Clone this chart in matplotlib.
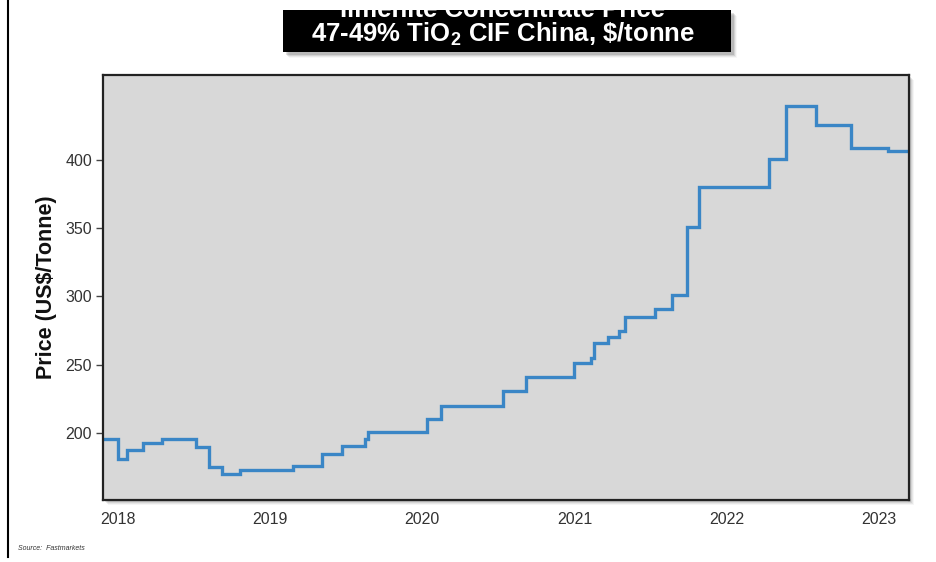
import numpy as np
import matplotlib
matplotlib.use("Agg")
import matplotlib.pyplot as plt
from matplotlib.patches import Rectangle
from matplotlib.lines import Line2D
from matplotlib.transforms import Bbox, TransformedBbox

plt.rcParams['font.family'] = ['Liberation Sans', 'DejaVu Sans']
plt.rcParams['mathtext.fontset'] = 'custom'
plt.rcParams['mathtext.rm'] = 'Liberation Sans:bold'

# step points: decimal year where each price level starts
dates = [2017.90, 2018.00, 2018.06, 2018.16, 2018.29, 2018.51, 2018.60, 2018.68,
         2018.80, 2019.15, 2019.34, 2019.47, 2019.62, 2019.64, 2020.03, 2020.12,
         2020.53, 2020.68, 2021.00, 2021.11, 2021.13, 2021.22, 2021.29, 2021.33,
         2021.53, 2021.64, 2021.74, 2021.82, 2022.28, 2022.39, 2022.59, 2022.82,
         2023.06, 2023.20]
price = [196, 181, 187.5, 193, 196, 190, 175, 170,
         173, 176, 185, 190.5, 196, 201, 210, 220,
         231, 241, 251, 255, 266, 270, 275, 285,
         291, 301, 351, 380, 400.5, 439, 425.5, 408.5,
         406.5, 406.5]
years = [2018, 2019, 2020, 2021, 2022, 2023]
yticks = [200, 250, 300, 350, 400]

fig = plt.figure(figsize=(9.36, 5.62), dpi=100)
fig.patch.set_facecolor('white')

l, b, w, h = 103/936, 62/562, 806/936, 425/562

# drop shadow behind the plot area
for i, a in enumerate([0.10, 0.08, 0.06, 0.04]):
    off = (i + 2) / 936
    fig.add_artist(Rectangle((l + off, b - (i + 2) / 562), w, h, transform=fig.transFigure,
                             facecolor='black', alpha=a, edgecolor='none', zorder=0))

ax = fig.add_axes([l, b, w, h])
ax.set_facecolor('#d8d8d8')
ax.step(dates, price, where='post', color='#3a86c6', lw=2.4, solid_joinstyle='miter')
ax.set_xlim(2017.90, 2023.20)
ax.set_ylim(151, 462)
ax.set_xticks(years)
ax.set_xticklabels([str(y) for y in years])
ax.set_yticks(yticks)
ax.tick_params(axis='x', length=0, pad=9, labelsize=11.5, labelcolor='#333333')
ax.tick_params(axis='y', length=5, width=1, color='#444444', pad=3, labelsize=11.5, labelcolor='#333333')
for s in ax.spines.values():
    s.set_color('#222222')
    s.set_linewidth(1.6)
ax.set_ylabel('Price (US$/Tonne)', fontsize=15.5, fontweight='bold', color='#111111', labelpad=6)

# title box with shadow
bx, by, bw, bh = 283/936, 1 - 52/562, 448/936, 42/562
for i, a in enumerate([0.12, 0.09, 0.06, 0.03]):
    fig.add_artist(Rectangle((bx + (i + 3) / 936, by - (i + 3) / 562), bw, bh, transform=fig.transFigure,
                             facecolor='black', alpha=a, edgecolor='none', zorder=1))
box = Rectangle((bx, by), bw, bh, transform=fig.transFigure, facecolor='black',
                edgecolor='none', zorder=2)
fig.add_artist(box)
t1 = fig.text(503/936, 1 - 10/562, 'Ilmenite Concentrate Price', ha='center', va='center',
              color='white', fontsize=18.5, fontweight='bold', zorder=3)
t1.set_clip_box(TransformedBbox(Bbox([[bx, by], [bx + bw, by + bh]]), fig.transFigure))
fig.text(503/936, 1 - 34/562, '47-49% TiO$_2$ CIF China, \\$/tonne', ha='center', va='center',
         color='white', fontsize=18.5, fontweight='bold', zorder=3)

# left frame line and source
fig.add_artist(Line2D([8/936, 8/936], [5/562, 1], transform=fig.transFigure, color='black', lw=1.5))
fig.text(18/936, 1 - 549/562, 'Source:  Fastmarkets', fontsize=5, style='italic', color='#333333',
         va='center')

fig.savefig('out.png', dpi=100)
